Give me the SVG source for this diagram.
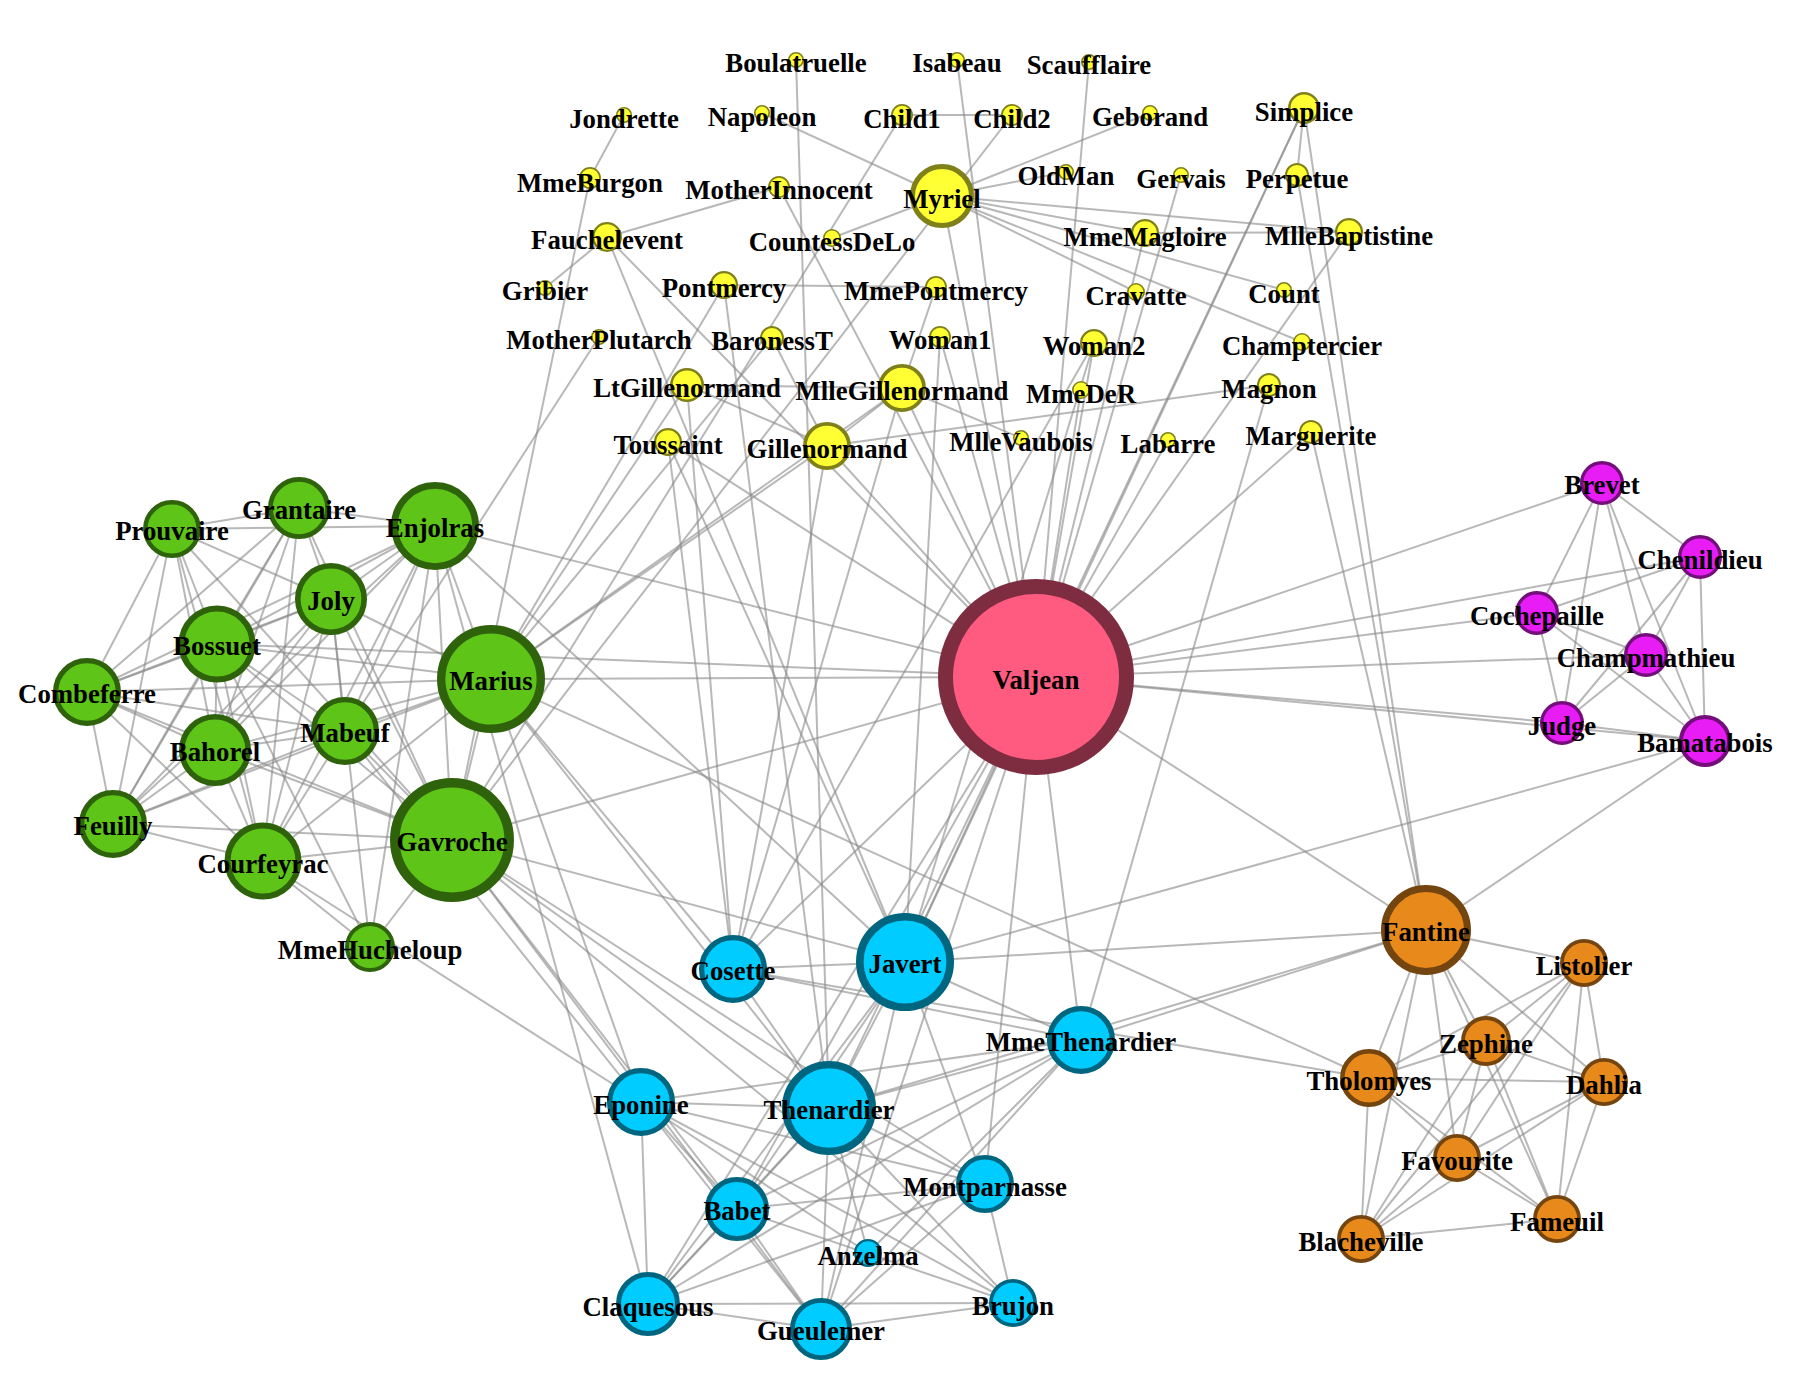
<svg xmlns="http://www.w3.org/2000/svg" width="1806" height="1382" viewBox="0 0 1806 1382">
<style>
#edges line{stroke:#888;stroke-opacity:0.6;stroke-width:2}
.y circle{fill:#FFFF33;stroke:#80801A}
.g circle{fill:#5EC417;stroke:#2E630B}
.p circle{fill:#FF5B80;stroke:#7E2C40}
.c circle{fill:#00CCFF;stroke:#006680}
.m circle{fill:#E81CF5;stroke:#740E7B}
.o circle{fill:#E8891B;stroke:#74450E}
text{font-family:"Liberation Serif","Times New Roman",serif;font-weight:bold;font-size:26.8px;text-anchor:middle;fill:#000}
</style>
<rect width="1806" height="1382" fill="#fff"/>
<g id="edges">
<line x1="762" y1="113" x2="942" y2="196"/>
<line x1="1349" y1="232" x2="942" y2="196"/>
<line x1="1145" y1="233" x2="942" y2="196"/>
<line x1="1145" y1="233" x2="1349" y2="232"/>
<line x1="832" y1="238" x2="942" y2="196"/>
<line x1="1150" y1="113" x2="942" y2="196"/>
<line x1="1302" y1="342" x2="942" y2="196"/>
<line x1="1136" y1="292" x2="942" y2="196"/>
<line x1="1284" y1="290" x2="942" y2="196"/>
<line x1="1066" y1="172" x2="942" y2="196"/>
<line x1="1036" y1="677" x2="1168" y2="440"/>
<line x1="1036" y1="677" x2="1145" y2="233"/>
<line x1="1036" y1="677" x2="1349" y2="232"/>
<line x1="1036" y1="677" x2="942" y2="196"/>
<line x1="1311" y1="432" x2="1036" y2="677"/>
<line x1="1081" y1="390" x2="1036" y2="677"/>
<line x1="957" y1="60" x2="1036" y2="677"/>
<line x1="1181" y1="175" x2="1036" y2="677"/>
<line x1="1584" y1="963" x2="1369" y2="1078"/>
<line x1="1557" y1="1219" x2="1369" y2="1078"/>
<line x1="1557" y1="1219" x2="1584" y2="963"/>
<line x1="1361" y1="1239" x2="1369" y2="1078"/>
<line x1="1361" y1="1239" x2="1584" y2="963"/>
<line x1="1361" y1="1239" x2="1557" y2="1219"/>
<line x1="1457" y1="1158" x2="1369" y2="1078"/>
<line x1="1457" y1="1158" x2="1584" y2="963"/>
<line x1="1457" y1="1158" x2="1557" y2="1219"/>
<line x1="1457" y1="1158" x2="1361" y2="1239"/>
<line x1="1604" y1="1082" x2="1369" y2="1078"/>
<line x1="1604" y1="1082" x2="1584" y2="963"/>
<line x1="1604" y1="1082" x2="1557" y2="1219"/>
<line x1="1604" y1="1082" x2="1361" y2="1239"/>
<line x1="1604" y1="1082" x2="1457" y2="1158"/>
<line x1="1486" y1="1041" x2="1369" y2="1078"/>
<line x1="1486" y1="1041" x2="1584" y2="963"/>
<line x1="1486" y1="1041" x2="1557" y2="1219"/>
<line x1="1486" y1="1041" x2="1361" y2="1239"/>
<line x1="1486" y1="1041" x2="1457" y2="1158"/>
<line x1="1486" y1="1041" x2="1604" y2="1082"/>
<line x1="1426" y1="930" x2="1369" y2="1078"/>
<line x1="1426" y1="930" x2="1584" y2="963"/>
<line x1="1426" y1="930" x2="1557" y2="1219"/>
<line x1="1426" y1="930" x2="1361" y2="1239"/>
<line x1="1426" y1="930" x2="1457" y2="1158"/>
<line x1="1426" y1="930" x2="1604" y2="1082"/>
<line x1="1426" y1="930" x2="1486" y2="1041"/>
<line x1="1426" y1="930" x2="1311" y2="432"/>
<line x1="1426" y1="930" x2="1036" y2="677"/>
<line x1="1081" y1="1040" x2="1426" y2="930"/>
<line x1="1081" y1="1040" x2="1036" y2="677"/>
<line x1="829" y1="1108" x2="1081" y2="1040"/>
<line x1="829" y1="1108" x2="1426" y2="930"/>
<line x1="829" y1="1108" x2="1036" y2="677"/>
<line x1="733" y1="969" x2="1081" y2="1040"/>
<line x1="733" y1="969" x2="1036" y2="677"/>
<line x1="733" y1="969" x2="1369" y2="1078"/>
<line x1="733" y1="969" x2="829" y2="1108"/>
<line x1="905" y1="962" x2="1036" y2="677"/>
<line x1="905" y1="962" x2="1426" y2="930"/>
<line x1="905" y1="962" x2="829" y2="1108"/>
<line x1="905" y1="962" x2="1081" y2="1040"/>
<line x1="905" y1="962" x2="733" y2="969"/>
<line x1="607" y1="237" x2="1036" y2="677"/>
<line x1="607" y1="237" x2="905" y2="962"/>
<line x1="1705" y1="741" x2="1426" y2="930"/>
<line x1="1705" y1="741" x2="905" y2="962"/>
<line x1="1705" y1="741" x2="1036" y2="677"/>
<line x1="1297" y1="175" x2="1426" y2="930"/>
<line x1="1304" y1="108" x2="1297" y2="175"/>
<line x1="1304" y1="108" x2="1036" y2="677"/>
<line x1="1304" y1="108" x2="1426" y2="930"/>
<line x1="1304" y1="108" x2="905" y2="962"/>
<line x1="1089" y1="62" x2="1036" y2="677"/>
<line x1="940" y1="337" x2="1036" y2="677"/>
<line x1="940" y1="337" x2="905" y2="962"/>
<line x1="1562" y1="723" x2="1036" y2="677"/>
<line x1="1562" y1="723" x2="1705" y2="741"/>
<line x1="1646" y1="655" x2="1036" y2="677"/>
<line x1="1646" y1="655" x2="1562" y2="723"/>
<line x1="1646" y1="655" x2="1705" y2="741"/>
<line x1="1602" y1="483" x2="1562" y2="723"/>
<line x1="1602" y1="483" x2="1646" y2="655"/>
<line x1="1602" y1="483" x2="1036" y2="677"/>
<line x1="1602" y1="483" x2="1705" y2="741"/>
<line x1="1700" y1="557" x2="1562" y2="723"/>
<line x1="1700" y1="557" x2="1646" y2="655"/>
<line x1="1700" y1="557" x2="1602" y2="483"/>
<line x1="1700" y1="557" x2="1036" y2="677"/>
<line x1="1700" y1="557" x2="1705" y2="741"/>
<line x1="1537" y1="613" x2="1562" y2="723"/>
<line x1="1537" y1="613" x2="1646" y2="655"/>
<line x1="1537" y1="613" x2="1602" y2="483"/>
<line x1="1537" y1="613" x2="1700" y2="557"/>
<line x1="1537" y1="613" x2="1036" y2="677"/>
<line x1="1537" y1="613" x2="1705" y2="741"/>
<line x1="724" y1="285" x2="829" y2="1108"/>
<line x1="796" y1="60" x2="829" y2="1108"/>
<line x1="641" y1="1102" x2="1081" y2="1040"/>
<line x1="641" y1="1102" x2="829" y2="1108"/>
<line x1="868" y1="1253" x2="641" y2="1102"/>
<line x1="868" y1="1253" x2="829" y2="1108"/>
<line x1="868" y1="1253" x2="1081" y2="1040"/>
<line x1="1094" y1="343" x2="1036" y2="677"/>
<line x1="1094" y1="343" x2="733" y2="969"/>
<line x1="1094" y1="343" x2="905" y2="962"/>
<line x1="779" y1="187" x2="607" y2="237"/>
<line x1="779" y1="187" x2="1036" y2="677"/>
<line x1="545" y1="288" x2="607" y2="237"/>
<line x1="590" y1="178" x2="624" y2="115"/>
<line x1="452" y1="840" x2="590" y2="178"/>
<line x1="452" y1="840" x2="829" y2="1108"/>
<line x1="452" y1="840" x2="905" y2="962"/>
<line x1="452" y1="840" x2="1036" y2="677"/>
<line x1="827" y1="446" x2="733" y2="969"/>
<line x1="827" y1="446" x2="1036" y2="677"/>
<line x1="1269" y1="385" x2="827" y2="446"/>
<line x1="1269" y1="385" x2="1081" y2="1040"/>
<line x1="902" y1="388" x2="827" y2="446"/>
<line x1="902" y1="388" x2="733" y2="969"/>
<line x1="902" y1="388" x2="1036" y2="677"/>
<line x1="936" y1="287" x2="902" y2="388"/>
<line x1="936" y1="287" x2="724" y2="285"/>
<line x1="1021" y1="438" x2="902" y2="388"/>
<line x1="687" y1="385" x2="902" y2="388"/>
<line x1="687" y1="385" x2="827" y2="446"/>
<line x1="687" y1="385" x2="733" y2="969"/>
<line x1="491" y1="679" x2="902" y2="388"/>
<line x1="491" y1="679" x2="827" y2="446"/>
<line x1="491" y1="679" x2="724" y2="285"/>
<line x1="491" y1="679" x2="687" y2="385"/>
<line x1="491" y1="679" x2="733" y2="969"/>
<line x1="491" y1="679" x2="1036" y2="677"/>
<line x1="491" y1="679" x2="1369" y2="1078"/>
<line x1="491" y1="679" x2="829" y2="1108"/>
<line x1="491" y1="679" x2="641" y2="1102"/>
<line x1="491" y1="679" x2="452" y2="840"/>
<line x1="772" y1="338" x2="827" y2="446"/>
<line x1="772" y1="338" x2="491" y2="679"/>
<line x1="345" y1="731" x2="491" y2="679"/>
<line x1="345" y1="731" x2="641" y2="1102"/>
<line x1="345" y1="731" x2="452" y2="840"/>
<line x1="435" y1="526" x2="491" y2="679"/>
<line x1="435" y1="526" x2="452" y2="840"/>
<line x1="435" y1="526" x2="905" y2="962"/>
<line x1="435" y1="526" x2="345" y2="731"/>
<line x1="435" y1="526" x2="1036" y2="677"/>
<line x1="87" y1="692" x2="435" y2="526"/>
<line x1="87" y1="692" x2="491" y2="679"/>
<line x1="87" y1="692" x2="452" y2="840"/>
<line x1="87" y1="692" x2="345" y2="731"/>
<line x1="172" y1="529" x2="452" y2="840"/>
<line x1="172" y1="529" x2="435" y2="526"/>
<line x1="172" y1="529" x2="87" y2="692"/>
<line x1="113" y1="824" x2="452" y2="840"/>
<line x1="113" y1="824" x2="435" y2="526"/>
<line x1="113" y1="824" x2="172" y2="529"/>
<line x1="113" y1="824" x2="87" y2="692"/>
<line x1="113" y1="824" x2="345" y2="731"/>
<line x1="113" y1="824" x2="491" y2="679"/>
<line x1="263" y1="861" x2="491" y2="679"/>
<line x1="263" y1="861" x2="435" y2="526"/>
<line x1="263" y1="861" x2="87" y2="692"/>
<line x1="263" y1="861" x2="452" y2="840"/>
<line x1="263" y1="861" x2="345" y2="731"/>
<line x1="263" y1="861" x2="641" y2="1102"/>
<line x1="263" y1="861" x2="113" y2="824"/>
<line x1="263" y1="861" x2="172" y2="529"/>
<line x1="215" y1="750" x2="87" y2="692"/>
<line x1="215" y1="750" x2="452" y2="840"/>
<line x1="215" y1="750" x2="263" y2="861"/>
<line x1="215" y1="750" x2="345" y2="731"/>
<line x1="215" y1="750" x2="435" y2="526"/>
<line x1="215" y1="750" x2="113" y2="824"/>
<line x1="215" y1="750" x2="172" y2="529"/>
<line x1="215" y1="750" x2="491" y2="679"/>
<line x1="217" y1="644" x2="491" y2="679"/>
<line x1="217" y1="644" x2="263" y2="861"/>
<line x1="217" y1="644" x2="452" y2="840"/>
<line x1="217" y1="644" x2="215" y2="750"/>
<line x1="217" y1="644" x2="435" y2="526"/>
<line x1="217" y1="644" x2="113" y2="824"/>
<line x1="217" y1="644" x2="172" y2="529"/>
<line x1="217" y1="644" x2="87" y2="692"/>
<line x1="217" y1="644" x2="345" y2="731"/>
<line x1="217" y1="644" x2="1036" y2="677"/>
<line x1="331" y1="599" x2="215" y2="750"/>
<line x1="331" y1="599" x2="217" y2="644"/>
<line x1="331" y1="599" x2="452" y2="840"/>
<line x1="331" y1="599" x2="263" y2="861"/>
<line x1="331" y1="599" x2="435" y2="526"/>
<line x1="331" y1="599" x2="113" y2="824"/>
<line x1="331" y1="599" x2="172" y2="529"/>
<line x1="331" y1="599" x2="87" y2="692"/>
<line x1="331" y1="599" x2="345" y2="731"/>
<line x1="331" y1="599" x2="491" y2="679"/>
<line x1="299" y1="508" x2="217" y2="644"/>
<line x1="299" y1="508" x2="435" y2="526"/>
<line x1="299" y1="508" x2="87" y2="692"/>
<line x1="299" y1="508" x2="263" y2="861"/>
<line x1="299" y1="508" x2="331" y2="599"/>
<line x1="299" y1="508" x2="452" y2="840"/>
<line x1="299" y1="508" x2="215" y2="750"/>
<line x1="299" y1="508" x2="113" y2="824"/>
<line x1="299" y1="508" x2="172" y2="529"/>
<line x1="599" y1="337" x2="345" y2="731"/>
<line x1="821" y1="1329" x2="829" y2="1108"/>
<line x1="821" y1="1329" x2="1036" y2="677"/>
<line x1="821" y1="1329" x2="1081" y2="1040"/>
<line x1="821" y1="1329" x2="905" y2="962"/>
<line x1="821" y1="1329" x2="452" y2="840"/>
<line x1="821" y1="1329" x2="641" y2="1102"/>
<line x1="737" y1="1209" x2="829" y2="1108"/>
<line x1="737" y1="1209" x2="821" y2="1329"/>
<line x1="737" y1="1209" x2="1036" y2="677"/>
<line x1="737" y1="1209" x2="1081" y2="1040"/>
<line x1="737" y1="1209" x2="905" y2="962"/>
<line x1="737" y1="1209" x2="641" y2="1102"/>
<line x1="737" y1="1209" x2="452" y2="840"/>
<line x1="648" y1="1304" x2="829" y2="1108"/>
<line x1="648" y1="1304" x2="737" y2="1209"/>
<line x1="648" y1="1304" x2="821" y2="1329"/>
<line x1="648" y1="1304" x2="1036" y2="677"/>
<line x1="648" y1="1304" x2="1081" y2="1040"/>
<line x1="648" y1="1304" x2="905" y2="962"/>
<line x1="648" y1="1304" x2="641" y2="1102"/>
<line x1="648" y1="1304" x2="435" y2="526"/>
<line x1="985" y1="1184" x2="905" y2="962"/>
<line x1="985" y1="1184" x2="737" y2="1209"/>
<line x1="985" y1="1184" x2="821" y2="1329"/>
<line x1="985" y1="1184" x2="648" y2="1304"/>
<line x1="985" y1="1184" x2="1036" y2="677"/>
<line x1="985" y1="1184" x2="452" y2="840"/>
<line x1="985" y1="1184" x2="641" y2="1102"/>
<line x1="985" y1="1184" x2="829" y2="1108"/>
<line x1="668" y1="442" x2="733" y2="969"/>
<line x1="668" y1="442" x2="905" y2="962"/>
<line x1="668" y1="442" x2="1036" y2="677"/>
<line x1="902" y1="115" x2="452" y2="840"/>
<line x1="1012" y1="115" x2="452" y2="840"/>
<line x1="1012" y1="115" x2="902" y2="115"/>
<line x1="1013" y1="1303" x2="737" y2="1209"/>
<line x1="1013" y1="1303" x2="821" y2="1329"/>
<line x1="1013" y1="1303" x2="829" y2="1108"/>
<line x1="1013" y1="1303" x2="452" y2="840"/>
<line x1="1013" y1="1303" x2="641" y2="1102"/>
<line x1="1013" y1="1303" x2="648" y2="1304"/>
<line x1="1013" y1="1303" x2="985" y2="1184"/>
<line x1="370" y1="947" x2="217" y2="644"/>
<line x1="370" y1="947" x2="331" y2="599"/>
<line x1="370" y1="947" x2="263" y2="861"/>
<line x1="370" y1="947" x2="452" y2="840"/>
<line x1="370" y1="947" x2="435" y2="526"/>
</g>
<g id="n-Myriel" class="y"><circle cx="942" cy="196" r="29.5" stroke-width="5"/><text x="942" y="208">Myriel</text></g>
<g id="n-Napoleon" class="y"><circle cx="762" cy="113" r="7.2" stroke-width="1.6"/><text x="762" y="126">Napoleon</text></g>
<g id="n-MlleBaptistine" class="y"><circle cx="1349" cy="232" r="12.9" stroke-width="2.2"/><text x="1349" y="245">MlleBaptistine</text></g>
<g id="n-MmeMagloire" class="y"><circle cx="1145" cy="233" r="12.9" stroke-width="2.2"/><text x="1145" y="246">MmeMagloire</text></g>
<g id="n-CountessDeLo" class="y"><circle cx="832" cy="238" r="8.2" stroke-width="1.6"/><text x="832" y="251">CountessDeLo</text></g>
<g id="n-Geborand" class="y"><circle cx="1150" cy="113" r="7.2" stroke-width="1.6"/><text x="1150" y="126">Geborand</text></g>
<g id="n-Champtercier" class="y"><circle cx="1302" cy="342" r="8.2" stroke-width="1.6"/><text x="1302" y="355">Champtercier</text></g>
<g id="n-Cravatte" class="y"><circle cx="1136" cy="292" r="8.2" stroke-width="1.6"/><text x="1136" y="305">Cravatte</text></g>
<g id="n-Count" class="y"><circle cx="1284" cy="290" r="7.2" stroke-width="1.6"/><text x="1284" y="303">Count</text></g>
<g id="n-OldMan" class="y"><circle cx="1066" cy="172" r="7.2" stroke-width="1.6"/><text x="1066" y="185">OldMan</text></g>
<g id="n-Labarre" class="y"><circle cx="1168" cy="440" r="7.2" stroke-width="1.6"/><text x="1168" y="453">Labarre</text></g>
<g id="n-Marguerite" class="y"><circle cx="1311" cy="432" r="11" stroke-width="1.9"/><text x="1311" y="445">Marguerite</text></g>
<g id="n-MmeDeR" class="y"><circle cx="1081" cy="390" r="8.2" stroke-width="1.6"/><text x="1081" y="403">MmeDeR</text></g>
<g id="n-Isabeau" class="y"><circle cx="957" cy="60" r="7.2" stroke-width="1.6"/><text x="957" y="72">Isabeau</text></g>
<g id="n-Gervais" class="y"><circle cx="1181" cy="175" r="7.2" stroke-width="1.6"/><text x="1181" y="188">Gervais</text></g>
<g id="n-Fauchelevent" class="y"><circle cx="607" cy="237" r="13.8" stroke-width="2.3"/><text x="607" y="249">Fauchelevent</text></g>
<g id="n-Perpetue" class="y"><circle cx="1297" cy="175" r="11" stroke-width="1.9"/><text x="1297" y="188">Perpetue</text></g>
<g id="n-Simplice" class="y"><circle cx="1304" cy="108" r="14.7" stroke-width="2.5"/><text x="1304" y="121">Simplice</text></g>
<g id="n-Scaufflaire" class="y"><circle cx="1089" cy="62" r="7.2" stroke-width="1.6"/><text x="1089" y="74">Scaufflaire</text></g>
<g id="n-Woman1" class="y"><circle cx="940" cy="337" r="10.1" stroke-width="1.7"/><text x="940" y="349">Woman1</text></g>
<g id="n-Pontmercy" class="y"><circle cx="724" cy="285" r="12.9" stroke-width="2.2"/><text x="724" y="297">Pontmercy</text></g>
<g id="n-Boulatruelle" class="y"><circle cx="796" cy="60" r="7.2" stroke-width="1.6"/><text x="796" y="72">Boulatruelle</text></g>
<g id="n-Woman2" class="y"><circle cx="1094" cy="343" r="12.9" stroke-width="2.2"/><text x="1094" y="355">Woman2</text></g>
<g id="n-MotherInnocent" class="y"><circle cx="779" cy="187" r="10.1" stroke-width="1.7"/><text x="779" y="199">MotherInnocent</text></g>
<g id="n-Gribier" class="y"><circle cx="545" cy="288" r="7.2" stroke-width="1.6"/><text x="545" y="300">Gribier</text></g>
<g id="n-Jondrette" class="y"><circle cx="624" cy="115" r="7.2" stroke-width="1.6"/><text x="624" y="128">Jondrette</text></g>
<g id="n-MmeBurgon" class="y"><circle cx="590" cy="178" r="10.1" stroke-width="1.7"/><text x="590" y="192">MmeBurgon</text></g>
<g id="n-Gillenormand" class="y"><circle cx="827" cy="446" r="22.1" stroke-width="3.7"/><text x="827" y="458">Gillenormand</text></g>
<g id="n-Magnon" class="y"><circle cx="1269" cy="385" r="11" stroke-width="1.9"/><text x="1269" y="398">Magnon</text></g>
<g id="n-MlleGillenormand" class="y"><circle cx="902" cy="388" r="22.1" stroke-width="3.7"/><text x="902" y="400">MlleGillenormand</text></g>
<g id="n-MmePontmercy" class="y"><circle cx="936" cy="287" r="10.1" stroke-width="1.7"/><text x="936" y="300">MmePontmercy</text></g>
<g id="n-MlleVaubois" class="y"><circle cx="1021" cy="438" r="7.2" stroke-width="1.6"/><text x="1021" y="451">MlleVaubois</text></g>
<g id="n-LtGillenormand" class="y"><circle cx="687" cy="385" r="15.7" stroke-width="2.6"/><text x="687" y="397">LtGillenormand</text></g>
<g id="n-BaronessT" class="y"><circle cx="772" cy="338" r="11" stroke-width="1.9"/><text x="772" y="350">BaronessT</text></g>
<g id="n-MotherPlutarch" class="y"><circle cx="599" cy="337" r="7.2" stroke-width="1.6"/><text x="599" y="349">MotherPlutarch</text></g>
<g id="n-Toussaint" class="y"><circle cx="668" cy="442" r="12.9" stroke-width="2.2"/><text x="668" y="454">Toussaint</text></g>
<g id="n-Child1" class="y"><circle cx="902" cy="115" r="10.1" stroke-width="1.7"/><text x="902" y="128">Child1</text></g>
<g id="n-Child2" class="y"><circle cx="1012" cy="115" r="10.1" stroke-width="1.7"/><text x="1012" y="128">Child2</text></g>
<g id="n-Grantaire" class="g"><circle cx="299" cy="508" r="28.6" stroke-width="4.8"/><text x="299" y="519">Grantaire</text></g>
<g id="n-Prouvaire" class="g"><circle cx="172" cy="529" r="26.7" stroke-width="4.5"/><text x="172" y="540">Prouvaire</text></g>
<g id="n-Enjolras" class="g"><circle cx="435" cy="526" r="40.6" stroke-width="6.8"/><text x="435" y="537">Enjolras</text></g>
<g id="n-Joly" class="g"><circle cx="331" cy="599" r="33.2" stroke-width="5.6"/><text x="331" y="610">Joly</text></g>
<g id="n-Bossuet" class="g"><circle cx="217" cy="644" r="35.5" stroke-width="6"/><text x="217" y="655">Bossuet</text></g>
<g id="n-Combeferre" class="g"><circle cx="87" cy="692" r="31.4" stroke-width="5.3"/><text x="87" y="703">Combeferre</text></g>
<g id="n-Mabeuf" class="g"><circle cx="345" cy="731" r="31.4" stroke-width="5.3"/><text x="345" y="742">Mabeuf</text></g>
<g id="n-Bahorel" class="g"><circle cx="215" cy="750" r="33.2" stroke-width="5.6"/><text x="215" y="761">Bahorel</text></g>
<g id="n-Feuilly" class="g"><circle cx="113" cy="824" r="31.4" stroke-width="5.3"/><text x="113" y="835">Feuilly</text></g>
<g id="n-Courfeyrac" class="g"><circle cx="263" cy="861" r="35.5" stroke-width="6"/><text x="263" y="873">Courfeyrac</text></g>
<g id="n-Marius" class="g"><circle cx="491" cy="679" r="49.8" stroke-width="8.4"/><text x="491" y="690">Marius</text></g>
<g id="n-Gavroche" class="g"><circle cx="452" cy="840" r="57.2" stroke-width="9.6"/><text x="452" y="851">Gavroche</text></g>
<g id="n-MmeHucheloup" class="g"><circle cx="370" cy="947" r="23" stroke-width="3.9"/><text x="370" y="959">MmeHucheloup</text></g>
<g id="n-Valjean" class="p"><circle cx="1036" cy="677" r="90.5" stroke-width="15"/><text x="1036" y="689">Valjean</text></g>
<g id="n-Cosette" class="c"><circle cx="733" cy="969" r="31.4" stroke-width="5.3"/><text x="733" y="980">Cosette</text></g>
<g id="n-Javert" class="c"><circle cx="905" cy="962" r="45.2" stroke-width="7.6"/><text x="905" y="973">Javert</text></g>
<g id="n-MmeThenardier" class="c"><circle cx="1081" cy="1040" r="31.4" stroke-width="5.3"/><text x="1081" y="1051">MmeThenardier</text></g>
<g id="n-Eponine" class="c"><circle cx="641" cy="1102" r="31.4" stroke-width="5.3"/><text x="641" y="1114">Eponine</text></g>
<g id="n-Thenardier" class="c"><circle cx="829" cy="1108" r="43.4" stroke-width="7.3"/><text x="829" y="1119">Thenardier</text></g>
<g id="n-Babet" class="c"><circle cx="737" cy="1209" r="29.5" stroke-width="5"/><text x="737" y="1220">Babet</text></g>
<g id="n-Anzelma" class="c"><circle cx="868" cy="1253" r="12.9" stroke-width="2.2"/><text x="868" y="1265">Anzelma</text></g>
<g id="n-Claquesous" class="c"><circle cx="648" cy="1304" r="29.5" stroke-width="5"/><text x="648" y="1316">Claquesous</text></g>
<g id="n-Gueulemer" class="c"><circle cx="821" cy="1329" r="28.6" stroke-width="4.8"/><text x="821" y="1340">Gueulemer</text></g>
<g id="n-Montparnasse" class="c"><circle cx="985" cy="1184" r="26.7" stroke-width="4.5"/><text x="985" y="1196">Montparnasse</text></g>
<g id="n-Brujon" class="c"><circle cx="1013" cy="1303" r="22.1" stroke-width="3.7"/><text x="1013" y="1315">Brujon</text></g>
<g id="n-Brevet" class="m"><circle cx="1602" cy="483" r="20.3" stroke-width="3.4"/><text x="1602" y="494">Brevet</text></g>
<g id="n-Chenildieu" class="m"><circle cx="1700" cy="557" r="20.3" stroke-width="3.4"/><text x="1700" y="569">Chenildieu</text></g>
<g id="n-Cochepaille" class="m"><circle cx="1537" cy="613" r="20.3" stroke-width="3.4"/><text x="1537" y="625">Cochepaille</text></g>
<g id="n-Champmathieu" class="m"><circle cx="1646" cy="655" r="20.3" stroke-width="3.4"/><text x="1646" y="667">Champmathieu</text></g>
<g id="n-Judge" class="m"><circle cx="1562" cy="723" r="20.3" stroke-width="3.4"/><text x="1562" y="735">Judge</text></g>
<g id="n-Bamatabois" class="m"><circle cx="1705" cy="741" r="24" stroke-width="4"/><text x="1705" y="752">Bamatabois</text></g>
<g id="n-Fantine" class="o"><circle cx="1426" cy="930" r="41.5" stroke-width="7"/><text x="1426" y="941">Fantine</text></g>
<g id="n-Listolier" class="o"><circle cx="1584" cy="963" r="22.1" stroke-width="3.7"/><text x="1584" y="975">Listolier</text></g>
<g id="n-Zephine" class="o"><circle cx="1486" cy="1041" r="23" stroke-width="3.9"/><text x="1486" y="1053">Zephine</text></g>
<g id="n-Tholomyes" class="o"><circle cx="1369" cy="1078" r="26.7" stroke-width="4.5"/><text x="1369" y="1090">Tholomyes</text></g>
<g id="n-Dahlia" class="o"><circle cx="1604" cy="1082" r="22.1" stroke-width="3.7"/><text x="1604" y="1094">Dahlia</text></g>
<g id="n-Favourite" class="o"><circle cx="1457" cy="1158" r="22.1" stroke-width="3.7"/><text x="1457" y="1170">Favourite</text></g>
<g id="n-Fameuil" class="o"><circle cx="1557" cy="1219" r="22.1" stroke-width="3.7"/><text x="1557" y="1231">Fameuil</text></g>
<g id="n-Blacheville" class="o"><circle cx="1361" cy="1239" r="22.1" stroke-width="3.7"/><text x="1361" y="1251">Blacheville</text></g>
</svg>
